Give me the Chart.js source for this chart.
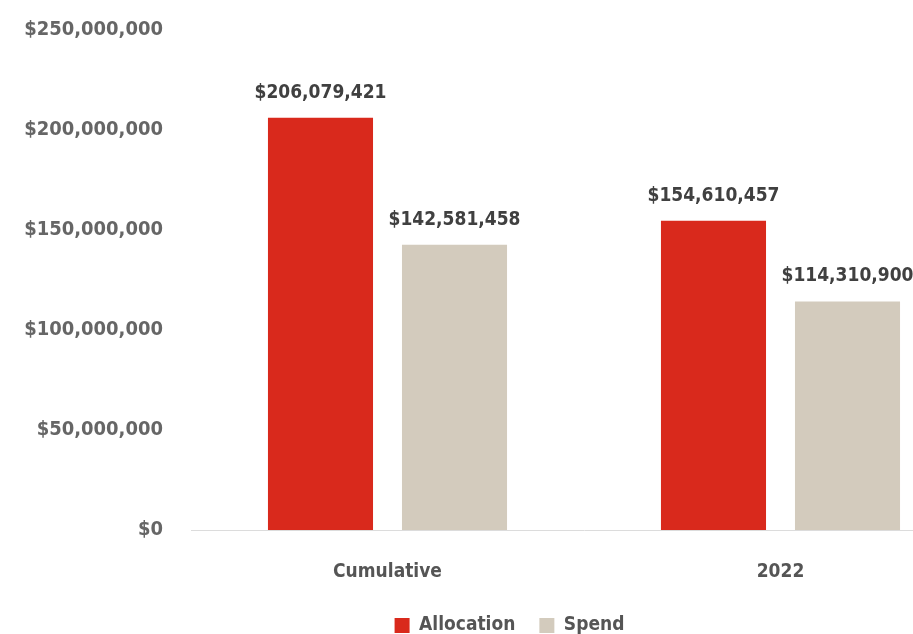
<!DOCTYPE html>
<html>
<head>
<meta charset="utf-8">
<script src="https://cdn.jsdelivr.net/npm/chart.js@4.4.0/dist/chart.umd.min.js"></script>
<style>
  html, body { margin: 0; padding: 0; background: #fff; overflow: hidden; }
  #wrap { width: 1018px; height: 645px; }
</style>
</head>
<body>
<div id="wrap"><canvas id="spendChart" width="1018" height="645"></canvas></div>
<script>
// chart data
var categories = ['Cumulative', '2022'];
var allocation = [206079421, 154610457];
var spend = [142581458, 114310900];
var yTicks = [0, 50000000, 100000000, 150000000, 200000000, 250000000];

var fontFamily = "'Liberation Sans Narrow', 'DejaVu Sans Condensed', sans-serif";

function money(v) {
    return '$' + Number(v).toLocaleString('en-US');
}

// draw value above each bar
var barLabels = {
    id: 'barLabels',
    afterLayout: function(chart) {
        // legend sits a bit right of the plot centre in the original
        chart.legend.left += 21;
        chart.legend.right += 21;
    },
    afterDatasetsDraw: function(chart) {
        var ctx = chart.ctx;
        ctx.save();
        ctx.font = 'bold 19px ' + fontFamily;
        ctx.fillStyle = '#404040';
        ctx.textAlign = 'center';
        ctx.textBaseline = 'alphabetic';
        chart.data.datasets.forEach(function(ds, i) {
            chart.getDatasetMeta(i).data.forEach(function(bar, j) {
                ctx.fillText(money(ds.data[j]), bar.x, bar.y - 20);
            });
        });
        ctx.restore();
    }
};

var ctx = document.getElementById('spendChart').getContext('2d');
var spendChart = new Chart(ctx, {
    type: 'bar',
    data: {
        labels: categories,
        datasets: [{
            label: 'Allocation',
            data: allocation,
            backgroundColor: '#D9291C',
            categoryPercentage: 0.682,
            barPercentage: 0.784
        }, {
            label: 'Spend',
            data: spend,
            backgroundColor: '#D3CBBD',
            categoryPercentage: 0.682,
            barPercentage: 0.784
        }]
    },
    options: {
        responsive: false,
        animation: false,
        layout: { padding: { top: 30, right: 41, left: 0, bottom: 0 } },
        scales: {
            x: {
                grid: { display: false },
                border: { display: true, color: '#dcdcdc', width: 1 },
                ticks: {
                    color: '#555',
                    padding: 23,
                    font: { family: fontFamily, size: 19, weight: 'bold' }
                },
                afterFit: function(scale) { scale.height = 62; }
            },
            y: {
                min: 0,
                max: 250000000,
                grid: { display: false, drawTicks: true, tickLength: 18 },
                border: { display: false },
                afterBuildTicks: function(scale) {
                    scale.ticks = yTicks.map(function(v) { return { value: v }; });
                },
                ticks: {
                    color: '#666',
                    padding: 10,
                    font: { family: fontFamily, size: 20, weight: 'bold' },
                    callback: function(v) { return money(v); }
                },
                afterFit: function(scale) { scale.width = 191; }
            }
        },
        plugins: {
            legend: {
                position: 'bottom',
                labels: {
                    boxWidth: 15,
                    boxHeight: 15,
                    padding: 24,
                    color: '#555',
                    font: { family: fontFamily, size: 19, weight: 'bold' }
                }
            },
            tooltip: { enabled: false }
        }
    },
    plugins: [barLabels]
});
</script>
</body>
</html>
